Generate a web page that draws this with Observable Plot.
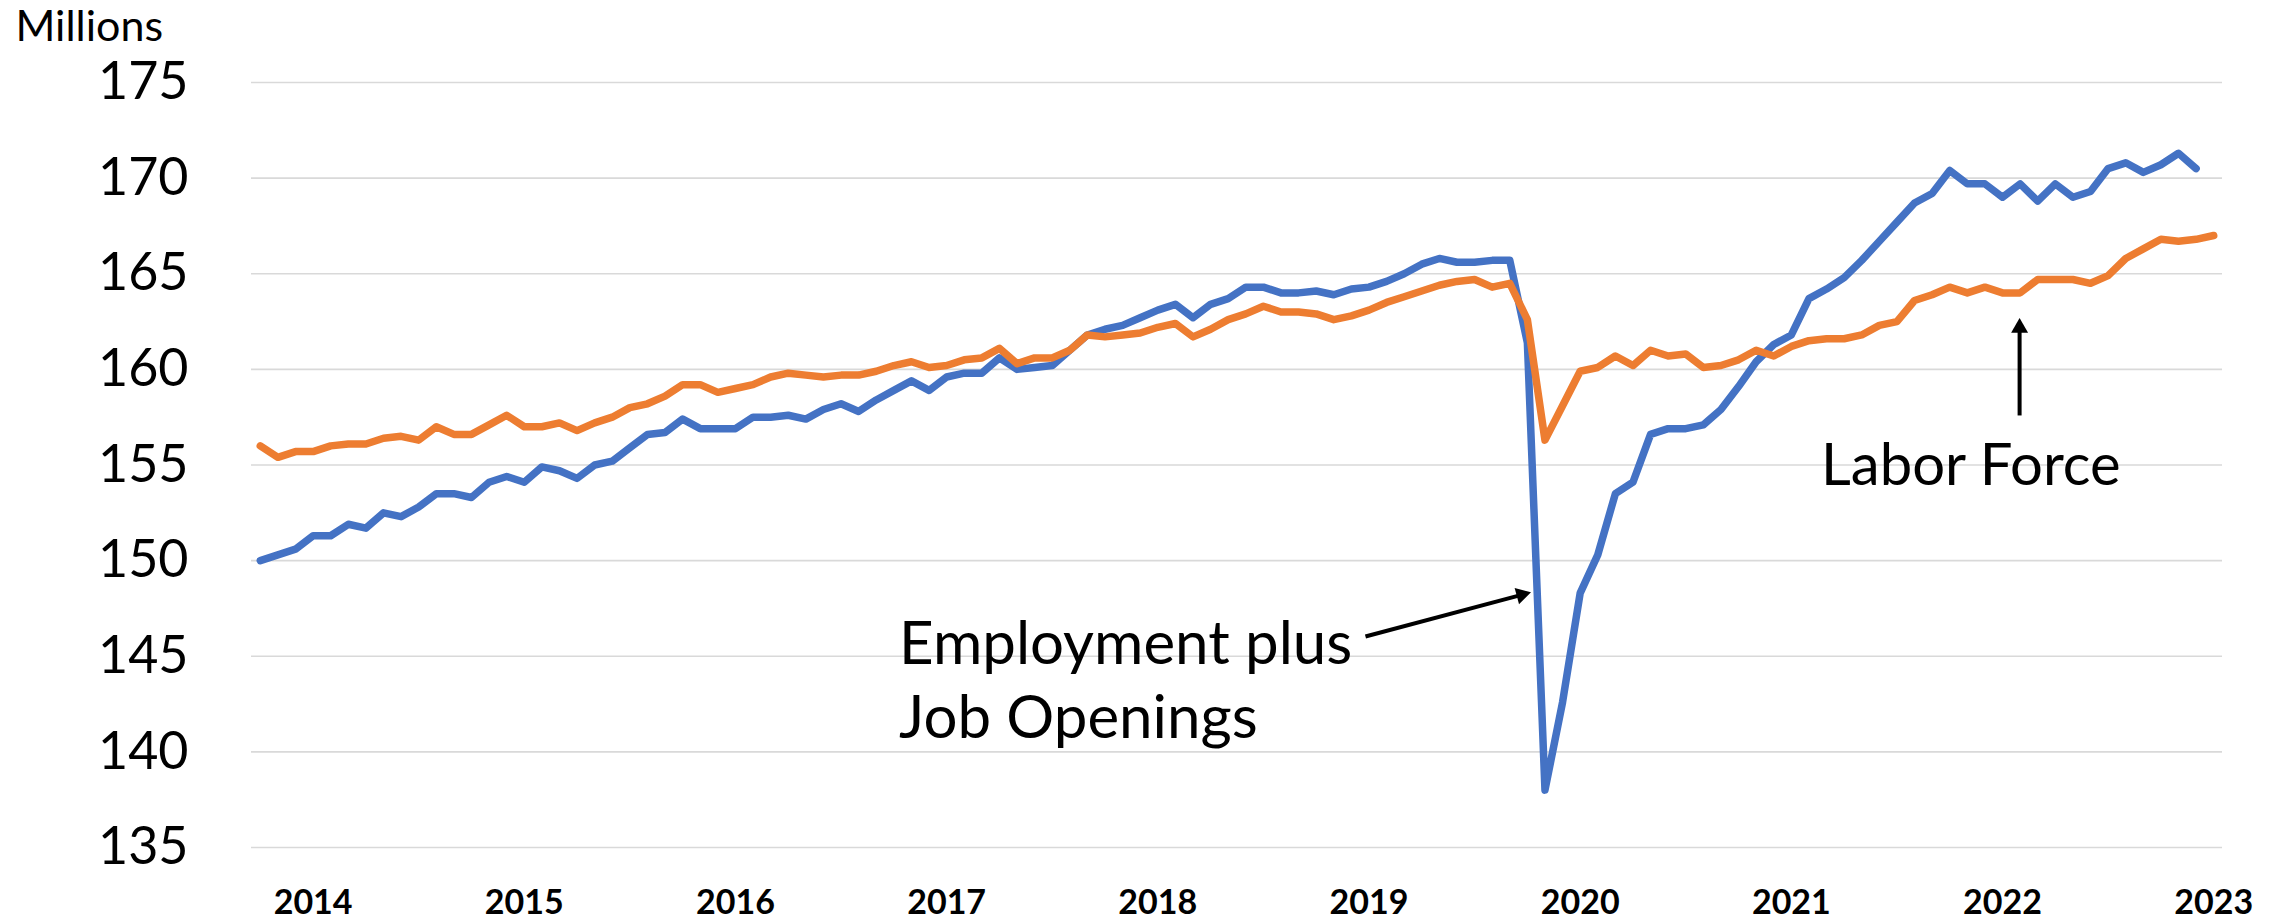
<!DOCTYPE html>
<html>
<head>
<meta charset="utf-8">
<script src="https://cdn.jsdelivr.net/npm/d3@7"></script>
<script src="https://cdn.jsdelivr.net/npm/@observablehq/plot@0.6"></script>
<style>
html, body { margin: 0; padding: 0; background: #ffffff; }
#chart svg { display: block; }
</style>
</head>
<body>
<div id="chart"></div>
<script>
// Monthly observations, March 2014 (index 0) to June 2023 (index 111)
const yearLabels = ["2014","2015","2016","2017","2018","2019","2020","2021","2022","2023"];
const yearLabelMonthIndex = [3, 15, 27, 39, 51, 63, 75, 87, 99, 111]; // June of each year
const yTicks = [135, 140, 145, 150, 155, 160, 165, 170, 175];

// Employment plus Job Openings (millions), Mar 2014 .. May 2023
const employmentPlusOpenings = [
  150.0, 150.3, 150.6, 151.3, 151.3, 151.9, 151.7, 152.5, 152.3, 152.8,
  153.5, 153.5, 153.3, 154.1, 154.4, 154.1, 154.9, 154.7, 154.3, 155.0,
  155.2, 155.9, 156.6, 156.7, 157.4, 156.9, 156.9, 156.9, 157.5, 157.5,
  157.6, 157.4, 157.9, 158.2, 157.8, 158.4, 158.9, 159.4, 158.9, 159.6,
  159.8, 159.8, 160.6, 160.0, 160.1, 160.2, 161.0, 161.8, 162.1, 162.3,
  162.7, 163.1, 163.4, 162.7, 163.4, 163.7, 164.3, 164.3, 164.0, 164.0,
  164.1, 163.9, 164.2, 164.3, 164.6, 165.0, 165.5, 165.8, 165.6, 165.6,
  165.7, 165.7, 161.4, 138.0, 142.6, 148.3, 150.3, 153.5, 154.1, 156.6,
  156.9, 156.9, 157.1, 157.9, 159.1, 160.4, 161.3, 161.8, 163.7, 164.2,
  164.8, 165.7, 166.7, 167.7, 168.7, 169.2, 170.4, 169.7, 169.7, 169.0,
  169.7, 168.8, 169.7, 169.0, 169.3, 170.5, 170.8, 170.3, 170.7, 171.3,
  170.5
];

// Labor Force (millions), Mar 2014 .. Jun 2023
const laborForce = [
  156.0, 155.4, 155.7, 155.7, 156.0, 156.1, 156.1, 156.4, 156.5, 156.3,
  157.0, 156.6, 156.6, 157.1, 157.6, 157.0, 157.0, 157.2, 156.8, 157.2,
  157.5, 158.0, 158.2, 158.6, 159.2, 159.2, 158.8, 159.0, 159.2, 159.6,
  159.8, 159.7, 159.6, 159.7, 159.7, 159.9, 160.2, 160.4, 160.1, 160.2,
  160.5, 160.6, 161.1, 160.3, 160.6, 160.6, 161.0, 161.8, 161.7, 161.8,
  161.9, 162.2, 162.4, 161.7, 162.1, 162.6, 162.9, 163.3, 163.0, 163.0,
  162.9, 162.6, 162.8, 163.1, 163.5, 163.8, 164.1, 164.4, 164.6, 164.7,
  164.3, 164.5, 162.6, 156.3, 158.1, 159.9, 160.1, 160.7, 160.2, 161.0,
  160.7, 160.8, 160.1, 160.2, 160.5, 161.0, 160.7, 161.2, 161.5, 161.6,
  161.6, 161.8, 162.3, 162.5, 163.6, 163.9, 164.3, 164.0, 164.3, 164.0,
  164.0, 164.7, 164.7, 164.7, 164.5, 164.9, 165.8, 166.3, 166.8, 166.7,
  166.8, 167.0
];

const seriesColors = {employment: "#4472C4", labor: "#ED7D31"};

// Annotations in data units (month index, millions)
const employmentLabel = [
  {text: "Employment plus", x: 36.3, y: 145.6},
  {text: "Job Openings",    x: 36.3, y: 141.75}
];
const laborLabel = [
  {text: "Labor Force", x: 97.2, y: 154.95}
];
const annotationArrows = [
  {x1: 62.8, y1: 146.03, x2: 71.67, y2: 148.21, angle: 75},
  {x1: 99.97, y1: 157.59, x2: 99.97, y2: 162.17, angle: 0}
];

const empData = employmentPlusOpenings.map((v, i) => ({i, v}));
const lfData = laborForce.map((v, i) => ({i, v}));

const chart = Plot.plot({
  width: 2282,
  height: 921,
  marginLeft: 251,
  marginRight: 60,
  marginTop: 82,
  marginBottom: 74,
  style: {fontFamily: "Lato, 'Open Sans', sans-serif", background: "#ffffff", color: "#000000", overflow: "visible"},
  x: {domain: [-0.5, 111.5], label: null},
  y: {domain: [135, 175], label: null},
  marks: [
    Plot.ruleY(yTicks, {stroke: "#d9d9d9", strokeWidth: 1.6}),
    Plot.axisY({ticks: yTicks, tickSize: 0, tickPadding: 63, fontSize: 52, label: null}),
    Plot.axisX({
      ticks: yearLabelMonthIndex,
      tickFormat: d => yearLabels[yearLabelMonthIndex.indexOf(d)],
      tickSize: 0, tickPadding: 42, fontSize: 34, fontWeight: "bold", label: null
    }),
    Plot.line(empData, {x: "i", y: "v", stroke: seriesColors.employment, strokeWidth: 7.5, strokeLinejoin: "round", strokeLinecap: "round"}),
    Plot.line(lfData, {x: "i", y: "v", stroke: seriesColors.labor, strokeWidth: 7.5, strokeLinejoin: "round", strokeLinecap: "round"}),
    Plot.link(annotationArrows, {x1: "x1", y1: "y1", x2: "x2", y2: "y2", stroke: "#000", strokeWidth: 4}),
    Plot.dot(annotationArrows, {x: "x2", y: "y2", symbol: "triangle", r: 6.3, fill: "#000", rotate: "angle"}),
    Plot.text(employmentLabel, {x: "x", y: "y", text: "text", textAnchor: "start", lineAnchor: "middle", fontSize: 60, fill: "#000"}),
    Plot.text(laborLabel, {x: "x", y: "y", text: "text", textAnchor: "middle", lineAnchor: "middle", fontSize: 58, fill: "#000"}),
    Plot.text(["Millions"], {frameAnchor: "top-left", dx: -236, dy: -55, textAnchor: "start", lineAnchor: "middle", fontSize: 43, fill: "#000"})
  ]
});
document.getElementById("chart").appendChild(chart);
</script>
</body>
</html>
